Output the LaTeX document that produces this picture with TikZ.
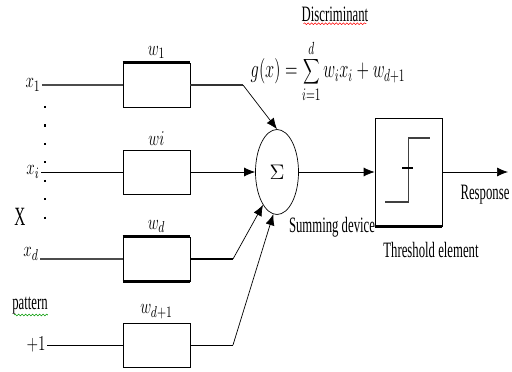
\documentclass[tikz,border=0pt]{standalone}
\usepackage{fontspec}
\setmainfont{Liberation Serif}
\usetikzlibrary{shapes.geometric, positioning, arrows.meta, calc, decorations.pathmorphing}

\begin{document}
\begin{tikzpicture}[
    x=0.02cm, y=-0.02cm,
    weight/.style={draw, rectangle, minimum width=1.34cm, minimum height=0.88cm, fill=white},
    summer/.style={draw, ellipse, minimum width=0.86cm, minimum height=1.7cm, inner sep=0pt, font=\fontsize{13}{15}\selectfont},
    threshold/.style={draw, rectangle, minimum width=1.34cm, minimum height=2.16cm},
    txt/.style={font=\fontsize{12.5}{14}\selectfont, xscale=0.58, inner sep=1pt},
    mathtxt/.style={font=\fontsize{13}{15}\selectfont, xscale=0.72, inner sep=1pt},
    heavy/.style={line width=1.3pt},
    feed/.style={-{Latex[length=2.2mm, width=1.8mm]}},
    squiggle/.style={decorate, decoration={snake, amplitude=0.5pt, segment length=2pt}, line width=0.3pt}
]
    \useasboundingbox (0,0) rectangle (512,372);

    % ================= INPUTS =================
    \node[mathtxt] (X1) at (33, 85) {$x_1$};
    \node[mathtxt] (XI) at (33, 172) {$x_i$};
    \node[mathtxt] (XD) at (31, 254) {$x_d$};
    \node[mathtxt] (ONE) at (36, 345) {$+1$};
    \node[txt, font=\fontsize{15}{17}\selectfont] (XVEC) at (20, 217) {X};
    \node[txt] (PAT) at (30, 306) {pattern};

    \coordinate (DOTTOP) at (45, 106);
    \coordinate (DOTBOT) at (45, 234);
    \draw[line width=1pt, dash pattern=on 1.2pt off 9.3pt] (DOTTOP) -- (DOTBOT);

    \coordinate (PATL) at (14, 315);
    \coordinate (PATR) at (48, 315);
    \draw[squiggle, green!60!black] (PATL) -- (PATR);

    % ================= WEIGHTS =================
    \node[weight] (W1) at (156.5, 85) {};
    \node[weight] (WI) at (156.5, 172) {};
    \node[weight] (WD) at (156.5, 259) {};
    \node[weight] (WD1) at (156.5, 345) {};

    \node[mathtxt, above=1pt of W1] (W1LBL) {$w_1$};
    \node[mathtxt, above=1pt of WI] (WILBL) {$wi$};
    \node[mathtxt, above=1pt of WD] (WDLBL) {$w_d$};
    \node[mathtxt, above=1pt of WD1] (WD1LBL) {$w_{d+1}$};

    \draw[line width=1.5pt] (W1.north west) -- (W1.north east);
    \draw[line width=1.5pt] (WD.north west) -- (WD.north east);
    \draw[line width=1.5pt] (WD.south west) -- (WD.south east);

    \draw[heavy, black!70] (X1) -- (W1);
    \draw (XI) -- (WI);
    \draw[heavy, black!70] (XD.east |- WD.west) -- (WD);
    \draw (ONE) -- (WD1);

    % ================= SUMMING DEVICE =================
    \node[summer] (SUM) at (277, 172) {$\Sigma$};
    \node[txt] (SUMLBL) at (332, 227) {Summing device};

    \coordinate (B1) at (243, 85);
    \coordinate (BD) at (233, 259);
    \coordinate (BD1) at (233, 345);

    \draw[heavy, black!80] (W1) -- (B1);
    \draw[feed] (B1) -- (SUM.north);
    \draw[feed] (WI) -- (SUM);
    \draw[heavy] (WD) -- (BD);
    \draw[feed] (BD) -- (SUM.247);
    \draw (WD1) -- (BD1);
    \draw[feed] (BD1) -- (SUM.265);

    % ================= DISCRIMINANT =================
    \node[txt, inner sep=0pt] (DISC) at (335, 14) {Discriminant};
    \draw[squiggle, red] ($(DISC.south west)+(2,2)$) -- ($(DISC.south east)+(-2,2)$);
    \node[mathtxt, inner sep=0pt, font=\fontsize{14}{16}\selectfont, xscale=0.9] (GX) at (328, 71) {$\displaystyle g(x)=\sum_{i=1}^{d} w_i x_i + w_{d+1}$};

    % ================= THRESHOLD ELEMENT =================
    \node[threshold] (THR) at (408.5, 172) {};
    \draw[line width=1.5pt] (THR.south west) -- (THR.south east);
    \draw[line width=1pt, black!75] ($(THR.center)+(-23,30)$) -- ($(THR.center)+(0,30)$)
        -- ($(THR.center)+(0,-34)$) -- ($(THR.center)+(22,-34)$);
    \draw[line width=1pt] ($(THR.center)+(-6,-4)$) -- ($(THR.center)+(5,-4)$);
    \node[txt] (THRLBL) at (431, 250) {Threshold element};

    \draw[feed] (SUM) -- (THR);

    % ================= RESPONSE =================
    \coordinate (OUT) at (508, 172);
    \draw[feed] (THR) -- (OUT);
    \node[txt] (RESP) at (485, 195) {Response};

\end{tikzpicture}
\end{document}
